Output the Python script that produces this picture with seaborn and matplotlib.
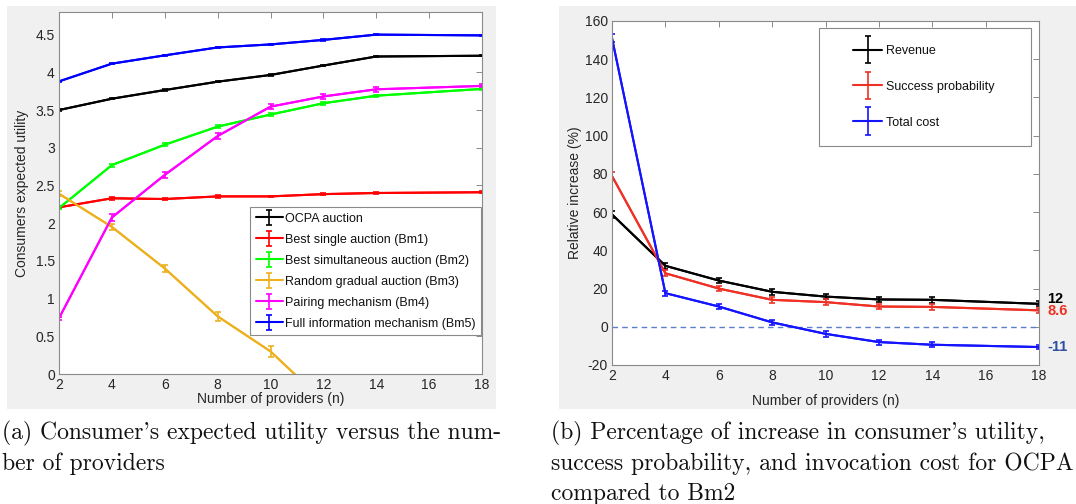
import numpy as np
import pandas as pd
import matplotlib
matplotlib.use("Agg")
import matplotlib.pyplot as plt
import seaborn as sns
from matplotlib.patches import Rectangle
from matplotlib.container import ErrorbarContainer
from matplotlib.legend_handler import HandlerErrorbar
from matplotlib.ticker import FuncFormatter, MultipleLocator

# ---------------- data ----------------
n_providers = [2, 4, 6, 8, 10, 12, 14, 18]

# panel (a): consumers expected utility
util_names = ["OCPA auction", "Best single auction (Bm1)", "Best simultaneous auction (Bm2)",
              "Random gradual auction (Bm3)", "Pairing mechanism (Bm4)",
              "Full information mechanism (Bm5)"]
util_ocpa = [3.50, 3.65, 3.765, 3.876, 3.965, 4.09, 4.21, 4.22]
util_bm1 = [2.21, 2.33, 2.32, 2.355, 2.355, 2.385, 2.40, 2.41]
util_bm2 = [2.20, 2.77, 3.04, 3.28, 3.44, 3.59, 3.69, 3.78]
util_bm3 = [2.39, 1.95, 1.40, 0.765, 0.30, -0.36, -1.00, -2.20]
util_bm4 = [0.74, 2.075, 2.64, 3.155, 3.545, 3.68, 3.775, 3.82]
util_bm5 = [3.88, 4.115, 4.225, 4.33, 4.37, 4.43, 4.50, 4.49]
util_err_ocpa = [0.01, 0.01, 0.01, 0.01, 0.01, 0.01, 0.01, 0.01]
util_err_bm1 = [0.015, 0.02, 0.015, 0.015, 0.01, 0.01, 0.01, 0.01]
util_err_bm2 = [0.015, 0.02, 0.02, 0.02, 0.02, 0.02, 0.015, 0.015]
util_err_bm3 = [0.03, 0.04, 0.05, 0.06, 0.07, 0.07, 0.07, 0.07]
util_err_bm4 = [0.02, 0.05, 0.04, 0.04, 0.03, 0.03, 0.03, 0.02]
util_err_bm5 = [0.01, 0.01, 0.01, 0.01, 0.01, 0.01, 0.01, 0.01]

# panel (b): relative increase (%) of OCPA vs Bm2
rel_names = ["Revenue", "Success probability", "Total cost"]
rel_revenue = [58.8, 31.9, 24.2, 18.3, 15.8, 14.3, 14.1, 12.0]
rel_success = [78.9, 28.0, 20.0, 14.1, 12.9, 10.6, 10.4, 8.6]
rel_cost = [151.0, 17.6, 10.6, 2.3, -3.7, -8.0, -9.4, -10.6]
rel_err_revenue = [2.0, 1.5, 1.2, 1.5, 1.5, 1.5, 1.5, 1.3]
rel_err_success = [2.0, 1.5, 1.2, 1.5, 1.5, 1.5, 1.5, 1.3]
rel_err_cost = [2.0, 1.3, 1.2, 1.5, 1.5, 1.3, 1.2, 1.0]
end_labels = ["12", "8.6", "-11"]

caption_a = ["(a) Consumer's expected utility versus the num-", "ber of providers"]
caption_b = ["(b) Percentage of increase in consumer's utility,",
             "success probability, and invocation cost for OCPA",
             "compared to Bm2"]

# ---------------- style ----------------
sns.set_theme(style="white")
plt.rcParams["font.family"] = ["Liberation Sans", "DejaVu Sans"]
plt.rcParams["axes.unicode_minus"] = False

W, H = 1076, 504
fig = plt.figure(figsize=(W / 100, H / 100), dpi=100)
fig.patch.set_facecolor("white")

def px(x0, y0, x1, y1):
    return [x0 / W, 1 - y1 / H, (x1 - x0) / W, (y1 - y0) / H]

BG = "#f0f0f0"
fig.patches.append(Rectangle((7 / W, 1 - 409 / H), 489 / W, 403 / H,
                             transform=fig.transFigure, facecolor=BG, edgecolor="none", zorder=-5))
fig.patches.append(Rectangle((559 / W, 1 - 409 / H), (W - 559) / W, 403 / H,
                             transform=fig.transFigure, facecolor=BG, edgecolor="none", zorder=-5))

ax1 = fig.add_axes(px(59, 12, 482, 374))
ax2 = fig.add_axes(px(612, 21, 1039, 365))

TXT = "#262626"
def style_axes(ax):
    ax.set_facecolor("white")
    for s in ax.spines.values():
        s.set_color("#8a8a8a")
        s.set_linewidth(0.8)
        s.set_visible(True)
    ax.tick_params(direction="in", length=4, width=0.7, color="#8a8a8a",
                   top=True, right=True, labelsize=10, labelcolor=TXT, pad=3)
    ax.xaxis.set_major_locator(MultipleLocator(2))
    ax.yaxis.set_major_formatter(FuncFormatter(lambda v, p: "%g" % v))
    ax.set_xlim(2, 18)

def draw_series(ax, x, y, err, color, label, lw=1.5, capsize=2.5):
    df = pd.DataFrame({"n": x, "v": y})
    sns.lineplot(data=df, x="n", y="v", ax=ax, color=color, linewidth=lw, legend=False)
    cont = ax.errorbar(x, y, yerr=err, fmt="-", color=color, lw=lw, elinewidth=1.2,
                       capsize=capsize, capthick=1.2, label=label)
    return cont

# ---------------- panel (a) ----------------
style_axes(ax1)
util_series = [util_ocpa, util_bm1, util_bm2, util_bm3, util_bm4, util_bm5]
util_errs = [util_err_ocpa, util_err_bm1, util_err_bm2, util_err_bm3, util_err_bm4, util_err_bm5]
util_colors = ["#000000", "#ff0000", "#00ff00", "#edb120", "#ff00ff", "#0000ff"]
h1 = []
for y, e, c, nm in zip(util_series, util_errs, util_colors, util_names):
    h1.append(draw_series(ax1, n_providers, y, e, c, nm))
ax1.set_ylim(0, 4.8)
ax1.yaxis.set_major_locator(MultipleLocator(0.5))
ax1.set_xlabel("Number of providers (n)", fontsize=10, color=TXT, labelpad=0)
ax1.set_ylabel("Consumers expected utility", fontsize=10, color=TXT, labelpad=5)

leg1 = ax1.legend(handles=h1, loc="upper right", bbox_to_anchor=(481 / W, 1 - 207 / H),
                  bbox_transform=fig.transFigure, fontsize=9, frameon=True, fancybox=False,
                  edgecolor="#8a8a8a", framealpha=1, borderpad=0.45, labelspacing=0.72,
                  handlelength=2.2, handletextpad=0.15, borderaxespad=0,
                  handler_map={ErrorbarContainer: HandlerErrorbar(xerr_size=0.6, yerr_size=0.6)})
leg1.get_frame().set_linewidth(0.8)
for t in leg1.get_texts():
    t.set_color("#111111")

# ---------------- panel (b) ----------------
style_axes(ax2)
rel_series = [rel_revenue, rel_success, rel_cost]
rel_errs = [rel_err_revenue, rel_err_success, rel_err_cost]
rel_colors = ["#000000", "#ee3124", "#1414ff"]
h2 = []
for y, e, c, nm in zip(rel_series, rel_errs, rel_colors, rel_names):
    h2.append(draw_series(ax2, n_providers, y, e, c, nm))
ax2.axhline(0, color="#5a7fc8", lw=1.0, ls=(0, (4, 3)), zorder=1)
ax2.set_ylim(-20, 160)
ax2.yaxis.set_major_locator(MultipleLocator(20))
ax2.set_xlabel("Number of providers (n)", fontsize=10, color=TXT, labelpad=8)
ax2.set_ylabel("Relative increase (%)", fontsize=10, color=TXT, labelpad=2)

ax2.add_patch(Rectangle((819 / W, 1 - 146 / H), (1031 - 819) / W, (146 - 28) / H,
                        transform=fig.transFigure, facecolor="white", edgecolor="#8a8a8a",
                        lw=0.8, zorder=5, clip_on=False))
leg2 = ax2.legend(handles=h2, loc="upper left", bbox_to_anchor=(853 / W, 1 - 45 / H),
                  bbox_transform=fig.transFigure, fontsize=9, frameon=False,
                  borderpad=0, labelspacing=1.9, handlelength=2.35, handletextpad=0.3,
                  borderaxespad=0,
                  handler_map={ErrorbarContainer: HandlerErrorbar(xerr_size=1.1, yerr_size=1.1)})
leg2.set_zorder(6)
for t in leg2.get_texts():
    t.set_color("#111111")

end_pos = [14.6, 8.0, -10.8]
end_colors = ["#000000", "#ee3124", "#2b4ea0"]
for lab, yv, c in zip(end_labels, end_pos, end_colors):
    ax2.text(18.3, yv, lab, color=c, fontsize=10.5, fontweight="bold", va="center",
             ha="left", clip_on=False)

# ---------------- captions ----------------
cap_kw = dict(fontsize=17, family="cmr10", color="#111111", va="center", ha="left")
for i, line in enumerate(caption_a):
    fig.text(2 / W, 1 - (433 + 30.5 * i) / H, line, **cap_kw)
for i, line in enumerate(caption_b):
    fig.text(551 / W, 1 - (433 + 30.5 * i) / H, line, **cap_kw)

fig.savefig("out.png", dpi=100)
